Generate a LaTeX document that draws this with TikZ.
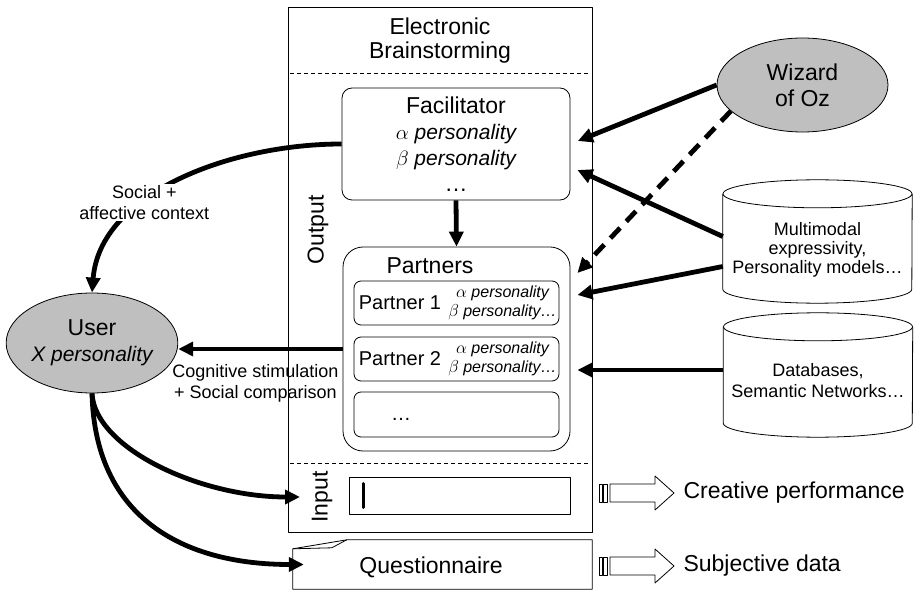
\documentclass[tikz,border=0pt]{standalone}
\usepackage{fontspec}
\setmainfont{Liberation Sans}
\usetikzlibrary{arrows.meta,shapes.geometric}

\begin{document}
\begin{tikzpicture}
	[x=1pt,y=-1pt,line join=round,
	%Styles
	thin line/.style={line width=0.8pt},
	frame/.style={draw,thin line,minimum width=304pt,minimum height=525pt,inner sep=0pt},
	rbox/.style={draw,thin line,rounded corners=10pt,inner sep=0pt},
	pbox/.style={draw,thin line,rounded corners=7pt,minimum width=205pt,minimum height=44pt,inner sep=0pt},
	big/.style={font=\fontsize{23}{26}\selectfont,align=center},
	mid/.style={font=\fontsize{18}{21}\selectfont,align=center},
	traits/.style={font=\fontsize{16}{19}\selectfont\itshape,align=center},
	actor/.style={ellipse,draw,thin line,fill=gray!50,inner sep=0pt},
	store/.style={minimum width=189pt,inner sep=0pt},
	conn/.style={line width=4.8pt,-{Triangle[length=15pt,width=14pt]}},
	sep line/.style={thin line,dash pattern=on 4pt off 3pt},
	label text/.style={mid,fill=white,inner sep=1pt}
	]
	\useasboundingbox (0,0) rectangle (916,593);
	
	%Brainstorming frame
	\node[frame] (eb) at (440,269.5) {};
	\node[big,font=\fontsize{23}{24}\selectfont] (title) at (440,41) {Electronic\\Brainstorming};
	\draw[sep line] (290,73) -- (588,73);
	\draw[sep line] (290,463) -- (588,463);
	\node[big,rotate=90] (outlbl) at (318,230) {Output};
	\node[big,rotate=90] (inlbl) at (322,497) {Input};
	
	%Facilitator and partners
	\node[rbox,big,minimum width=228pt,minimum height=112pt] (fac) at (456,144)
		{Facilitator\\ {\fontsize{21}{26}\selectfont\itshape $\alpha$ personality}\\
		 {\fontsize{21}{26}\selectfont\itshape $\beta$ personality}\\ …};
	\node[rbox,rounded corners=20pt,minimum width=227pt,minimum height=204pt] (partners) at (456.5,349) {};
	\node[big] (ptitle) at (430,266) {Partners};
	\node[pbox] (p1) at (456.5,303) {};
	\node[pbox] (p2) at (456.5,359) {};
	\node[pbox,minimum height=45pt] (p3) at (456.5,414.5) {};
	\foreach \n/\y in {1/303,2/359}{
		\node[font=\fontsize{20}{22}\selectfont] (pname\n) at (400,\y) {Partner \n};
		\node[traits] (ptraits\n) at (502.5,\y) {$\alpha$ personality\\ $\beta$ personality…};
	}
	\node[font=\fontsize{20}{22}\selectfont] (pmore) at (401,419) {…};
	
	%Input
	\node[draw,thin line,minimum width=221pt,minimum height=37pt,inner sep=0pt] (inbox) at (459.5,495.5) {};
	\draw[line width=3pt,line cap=round] ([shift={(15,-12)}]inbox.west) -- ([shift={(15,12)}]inbox.west);
	\coordinate (inpt) at (300,497);
	
	%Questionnaire
	\node[minimum width=299pt,minimum height=49pt,inner sep=0pt] (quest) at (442.5,564.5) {};
	\draw[thin line] ([xshift=54pt]quest.north west) -- (quest.north east) -- (quest.south east)
		-- (quest.south west) -- ([yshift=-9pt]quest.north west) -- cycle;
	\draw[thin line] ([yshift=-9pt]quest.north west) -- ([shift={(39,8)}]quest.north west) -- ([xshift=54pt]quest.north west);
	\node[big] (qtext) at (431,567) {Questionnaire};
	
	%Outcomes
	\node[big,anchor=west] (perf) at (680,493) {Creative performance};
	\node[big,anchor=west] (subj) at (680,566) {Subjective data};
	\foreach \t in {perf,subj}{
		\begin{scope}[shift={(\t.west)}]
			\draw[thin line] (-70,-9) -- (-25,-9) -- (-25,-17) -- (-6,0) -- (-25,17) -- (-25,9) -- (-70,9) -- cycle;
			\draw[thin line] (-81,-9) rectangle (-78,9);
			\draw[thin line] (-77,-9) rectangle (-73,9);
		\end{scope}
	}
	
	%Actors
	\node[actor,big,minimum width=171pt,minimum height=94pt] (wiz) at (802.5,85) {Wizard\\of Oz};
	\node[actor,big,minimum width=170pt,minimum height=100pt] (user) at (92,343)
		{User\\ {\fontsize{21}{26}\selectfont\itshape X personality}};
	
	%Knowledge stores
	\node[store,minimum height=123pt] (mm) at (817.5,241.5) {};
	\node[mid,font=\fontsize{18}{19}\selectfont] (mmtext) at (817.5,250) {Multimodal\\expressivity,\\Personality models…};
	\node[store,minimum height=124pt] (db) at (818,375) {};
	\node[mid] (dbtext) at (818,381) {Databases,\\Semantic Networks…};
	\foreach \s in {mm,db}{
		\draw[thin line] ([yshift=-14pt]\s.north west) -- ([yshift=14pt]\s.south west)
			arc[start angle=180,end angle=360,x radius=94.5pt,y radius=14pt] -- ([yshift=-14pt]\s.north east);
		\draw[thin line] ([yshift=-14pt]\s.north) ellipse[x radius=94.5pt,y radius=14pt];
	}
	
	%Connectors
	\draw[conn] (fac.south) -- (partners.north);
	\draw[conn] (fac.west) .. controls +(-110,0) and +(8,-100) .. (user.north)
		node[label text,pos=0.63] (social) {Social +\\affective context};
	\draw[conn] (partners.west) -- (partners.west -| user.east)
		node[mid,below=10pt,pos=0.53] (cogn) {Cognitive stimulation\\+ Social comparison};
	\draw[conn] (user.south) .. controls +(3,55) and +(-100,0) .. (inpt);
	\draw[conn] (user.south) .. controls +(3,125) and +(-120,0) .. ([xshift=11pt]quest.west);
	\draw[conn,shorten >=8pt] (wiz.west) -- (fac.east);
	\draw[conn,dash pattern=on 14pt off 9pt] (wiz.200) -- ([shift={(7,-76)}]partners.east);
	\draw[conn] ([shift={(0,-5)}]mm.west) -- ([shift={(7,26)}]fac.east);
	\draw[conn] ([shift={(0,25)}]mm.west) -- ([shift={(7,-54)}]partners.east);
	\draw[conn] ([shift={(0,-5)}]db.west) -- ([shift={(7,21)}]partners.east);
\end{tikzpicture}
\end{document}
